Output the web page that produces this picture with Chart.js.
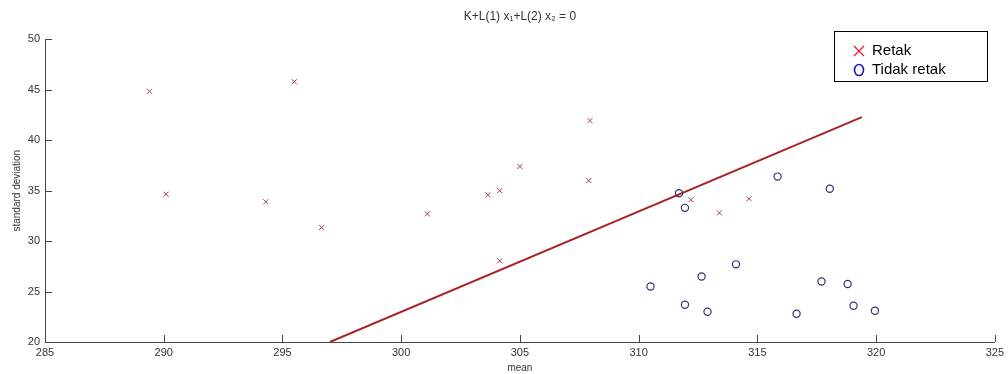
<!DOCTYPE html>
<html>
<head>
<meta charset="utf-8">
<script src="https://cdn.jsdelivr.net/npm/chart.js@4/dist/chart.umd.min.js"></script>
<style>
  body { margin: 0; background: #fff; }
  canvas { display: block; }
</style>
</head>
<body>
<canvas id="plot" width="1008" height="374"></canvas>
<script>
/* ================= DATA ================= */
const retakMean = [289.4, 290.1, 294.3, 295.5, 296.65, 301.1, 303.65, 304.15, 304.15, 305.0, 307.9, 307.95, 312.2, 313.4, 314.65];
const retakStd  = [44.85, 34.65, 33.9, 45.8, 31.35, 32.7, 34.6, 35.0, 28.05, 37.4, 36.0, 41.95, 34.1, 32.8, 34.2];

const tidakMean = [310.5, 311.7, 311.95, 311.95, 312.65, 312.9, 314.1, 315.85, 316.65, 317.7, 318.05, 318.8, 319.05, 319.95];
const tidakStd  = [25.5, 34.75, 33.3, 23.7, 26.5, 23.0, 27.7, 36.4, 22.8, 26.0, 35.2, 25.75, 23.6, 23.1];

// decision boundary K + L(1) x1 + L(2) x2 = 0
const boundaryMean = [297.0, 319.4];
const boundaryStd  = [20, 42.3];

const xTicks = [285, 290, 295, 300, 305, 310, 315, 320, 325];
const yTicks = [20, 25, 30, 35, 40, 45, 50];

const toPoints = (xs, ys) => xs.map((x, i) => ({ x: x, y: ys[i] }));
const FONT = "'Liberation Sans', Arial, 'DejaVu Sans', sans-serif";

/* ================= PLUGINS ================= */
// matlab style ticks pointing into the axes
const inwardTicks = {
  id: "inwardTicks",
  afterDraw(chart) {
    const ctx = chart.ctx;
    const xs = chart.scales.x, ys = chart.scales.y;
    ctx.save();
    ctx.strokeStyle = "#444";
    ctx.lineWidth = 1;
    ctx.beginPath();
    xTicks.forEach(v => {
      const px = Math.round(xs.getPixelForValue(v)) + 0.5;
      ctx.moveTo(px, ys.bottom);
      ctx.lineTo(px, ys.bottom - 7);
    });
    yTicks.forEach(v => {
      const py = Math.round(ys.getPixelForValue(v)) + 0.5;
      ctx.moveTo(xs.left, py);
      ctx.lineTo(xs.left + 7, py);
    });
    ctx.stroke();
    ctx.restore();
  }
};

// boxed legend in the top right corner
const boxLegend = {
  id: "boxLegend",
  afterDraw(chart) {
    const ctx = chart.ctx;
    const x0 = 834, y0 = 31, w = 153, h = 50;
    ctx.save();
    ctx.fillStyle = "#fff";
    ctx.fillRect(x0, y0, w, h);
    ctx.strokeStyle = "#000";
    ctx.lineWidth = 1;
    ctx.strokeRect(x0 + 0.5, y0 + 0.5, w, h);

    ctx.font = "15px " + FONT;
    ctx.textBaseline = "middle";
    ctx.fillStyle = "#000";

    // Retak
    let cy = y0 + 20;
    ctx.strokeStyle = "#e0202a";
    ctx.lineWidth = 1.3;
    ctx.beginPath();
    ctx.moveTo(x0 + 20, cy - 5); ctx.lineTo(x0 + 30, cy + 5);
    ctx.moveTo(x0 + 30, cy - 5); ctx.lineTo(x0 + 20, cy + 5);
    ctx.stroke();
    ctx.fillText(chart.data.datasets[0].label, x0 + 38, cy);

    // Tidak retak
    cy = y0 + 39;
    ctx.strokeStyle = "#1a1ab8";
    ctx.lineWidth = 1.6;
    ctx.beginPath();
    ctx.ellipse(x0 + 25, cy, 4.5, 5.5, 0, 0, Math.PI * 2);
    ctx.stroke();
    ctx.fillText(chart.data.datasets[1].label, x0 + 38, cy);
    ctx.restore();
  }
};

/* ================= CHART ================= */
new Chart(document.getElementById("plot"), {
  type: "scatter",
  data: {
    datasets: [{
      label: "Retak",
      data: toPoints(retakMean, retakStd),
      pointStyle: "crossRot",
      pointRadius: 3.6,
      borderColor: "#a04050",
      borderWidth: 1,
      backgroundColor: "#a04050"
    }, {
      label: "Tidak retak",
      data: toPoints(tidakMean, tidakStd),
      pointStyle: "circle",
      pointRadius: 3.6,
      borderColor: "#33336e",
      borderWidth: 1.2,
      backgroundColor: "rgba(0,0,0,0)"
    }, {
      type: "line",
      label: "boundary",
      data: toPoints(boundaryMean, boundaryStd),
      borderColor: "#a8232a",
      borderWidth: 2,
      pointRadius: 0,
      fill: false
    }]
  },
  options: {
    responsive: false,
    animation: false,
    layout: { padding: { left: 0, right: 12, top: 0, bottom: 0 } },
    plugins: {
      legend: { display: false },
      tooltip: { enabled: false },
      title: {
        display: true,
        fullSize: false,
        text: "K+L(1) x\u2081+L(2) x\u2082 = 0",
        color: "#333",
        font: { family: FONT, size: 12, weight: "normal" },
        padding: { top: 9, bottom: 16 }
      }
    },
    scales: {
      x: {
        type: "linear",
        min: 285,
        max: 325,
        afterBuildTicks: s => { s.ticks = xTicks.map(v => ({ value: v })); },
        afterFit: s => { s.height = 32; },
        ticks: { color: "#333", font: { family: FONT, size: 11 }, padding: 4, maxRotation: 0 },
        grid: { drawOnChartArea: false, drawTicks: false },
        border: { color: "#444" },
        title: {
          display: true,
          text: "mean",
          color: "#333",
          font: { family: FONT, size: 10 },
          padding: { top: 0, bottom: 0 }
        }
      },
      y: {
        min: 20,
        max: 50,
        afterBuildTicks: s => { s.ticks = yTicks.map(v => ({ value: v })); },
        afterFit: s => { s.width = 45; },
        ticks: { color: "#333", font: { family: FONT, size: 11 }, padding: 5 },
        grid: { drawOnChartArea: false, drawTicks: false },
        border: { color: "#444" },
        title: {
          display: true,
          text: "standard deviation",
          color: "#333",
          font: { family: FONT, size: 10 },
          padding: { top: 11, bottom: 0 }
        }
      }
    }
  },
  plugins: [inwardTicks, boxLegend]
});
</script>
</body>
</html>
